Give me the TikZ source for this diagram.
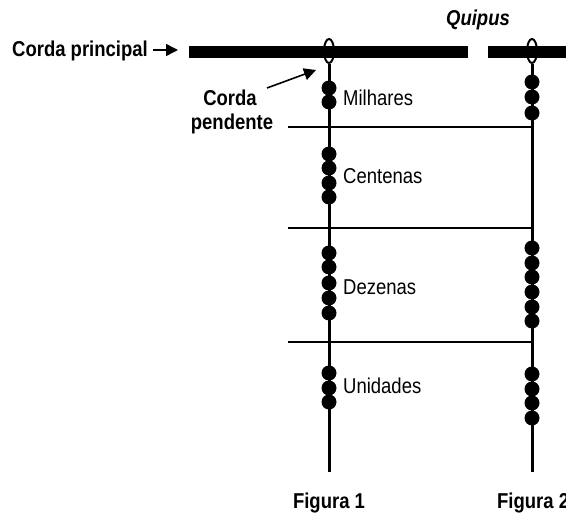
\documentclass[tikz,border=0pt]{standalone}
\usepackage{fontspec}
\setmainfont{Liberation Sans}[FakeStretch=0.86]
\usetikzlibrary{arrows.meta,shapes.geometric}
\begin{document}
\begin{tikzpicture}[x=1pt,y=-1pt,
  lab/.style={inner sep=0pt,font=\fontsize{21.5}{24}\selectfont},
  blab/.style={inner sep=0pt,font=\bfseries\fontsize{21.5}{24}\selectfont},
  bead/.style={circle,fill=black,inner sep=0pt,minimum size=15pt},
  loopknot/.style={ellipse,draw=black,line width=2pt,fill=none,minimum width=10pt,minimum height=24pt,inner sep=0pt},
  pend/.style={line width=3pt},
  sep/.style={line width=1.1pt},
  arr/.style={line width=1.6pt,-{Triangle[length=12pt,width=12pt]}}]
\useasboundingbox (0,0) rectangle (566,513);
% main cords
\fill[black] (189,46) rectangle (468,58);
\fill[black] (488,46) rectangle (572,58);
% loops
\node[loopknot] (loop1) at (329,51) {};
\node[loopknot] (loop2) at (532,51) {};
\coordinate (end1) at (329,472);
\coordinate (end2) at (532,472);
\draw[pend] (loop1.south) -- (end1);
\draw[pend] (loop2.south) -- (end2);
% separator lines
\coordinate (s1a) at (288,127); \coordinate (s1b) at (532,127);
\coordinate (s2a) at (288,228); \coordinate (s2b) at (532,228);
\coordinate (s3a) at (288,342); \coordinate (s3b) at (532,342);
\draw[sep] (s1a) -- (s1b);
\draw[sep] (s2a) -- (s2b);
\draw[sep] (s3a) -- (s3b);
% beads figure 1
\foreach \y [count=\i] in {88,102,154,168,183,197,253,267,283,298,313,373,388,402}
  \node[bead] (a\i) at (329,\y) {};
% beads figure 2
\foreach \y [count=\i] in {82,97,113,248,263,277,292,307,321,374,389,403,418}
  \node[bead] (b\i) at (532,\y) {};
% labels
\node[blab,anchor=base west] (cp) at (12,57) {Corda principal};
\coordinate (cpstart) at (153,50);
\coordinate (cpend) at (178,50);
\draw[arr] (cpstart) -- (cpend);
\node[blab,anchor=base,font=\bfseries\itshape\fontsize{21.5}{24}\selectfont] (quipus) at (478,26) {Quipus};
\node[blab,anchor=base] (corda) at (230,106) {Corda};
\node[blab,anchor=base] (pendente) at (232,130) {pendente};
\coordinate (pa) at (267,88);
\coordinate (pb) at (316,70);
\draw[arr] (pa) -- (pb);
\node[lab,anchor=base west] (mil) at (343,106) {Milhares};
\node[lab,anchor=base west] (cen) at (343,184) {Centenas};
\node[lab,anchor=base west] (dez) at (343,295) {Dezenas};
\node[lab,anchor=base west] (uni) at (343,394) {Unidades};
\node[blab,anchor=base] (fig1) at (329,509) {Figura 1};
\node[blab,anchor=base west] (fig2) at (497,509) {Figura 2};
\end{tikzpicture}
\end{document}
